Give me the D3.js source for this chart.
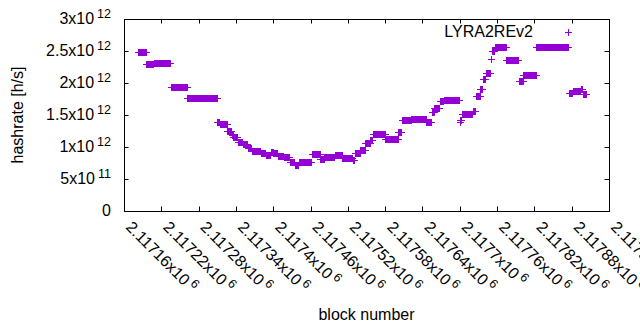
<!DOCTYPE html>
<html>
<head>
<meta charset="utf-8">
<script src="https://cdn.jsdelivr.net/npm/d3@7"></script>
<style>
    body { margin: 0; background: #fff; }
    text { font-family: "Liberation Sans", Arial, sans-serif; fill: #000; }
</style>
</head>
<body>
<svg id="chart" width="640" height="330"></svg>
<script>
// Hashrate runs: each run is a stretch of blocks at one value
var runStart = [2117183, 2117196, 2117208, 2117235, 2117262, 2117310, 2117314, 2117326, 2117333, 2117336,
    2117343, 2117351, 2117359, 2117366, 2117380, 2117388, 2117396, 2117400, 2117407, 2117417,
    2117427, 2117435, 2117441, 2117462, 2117476, 2117482, 2117499, 2117511, 2117528, 2117531,
    2117540, 2117548, 2117556, 2117560, 2117580, 2117601, 2117607, 2117622, 2117646, 2117655,
    2117659, 2117668, 2117674, 2117700, 2117701, 2117703, 2117721, 2117726, 2117733, 2117737,
    2117742, 2117750, 2117752, 2117756, 2117775, 2117795, 2117802, 2117823, 2117876, 2117882,
    2117895, 2117898]
var runEnd = [2117195, 2117207, 2117234, 2117261, 2117309, 2117313, 2117325, 2117332, 2117335, 2117342,
    2117350, 2117358, 2117365, 2117379, 2117387, 2117395, 2117399, 2117406, 2117416, 2117426,
    2117434, 2117440, 2117461, 2117475, 2117481, 2117498, 2117510, 2117527, 2117530, 2117539,
    2117547, 2117555, 2117559, 2117579, 2117600, 2117606, 2117621, 2117645, 2117654, 2117658,
    2117667, 2117673, 2117699, 2117700, 2117702, 2117720, 2117725, 2117732, 2117736, 2117741,
    2117749, 2117751, 2117755, 2117774, 2117794, 2117801, 2117822, 2117874, 2117881, 2117894,
    2117897, 2117903]
var runValue = [2.48e12, 2.29e12, 2.31e12, 1.935e12, 1.773e12, 1.39e12, 1.36e12, 1.245e12, 1.19e12, 1.15e12,
    1.08e12, 1.04e12, 0.99e12, 0.94e12, 0.905e12, 0.875e12, 0.92e12, 0.90e12, 0.86e12, 0.84e12,
    0.77e12, 0.72e12, 0.76e12, 0.898e12, 0.81e12, 0.845e12, 0.87e12, 0.83e12, 0.79e12, 0.90e12,
    0.955e12, 1.06e12, 1.11e12, 1.20e12, 1.122e12, 1.23e12, 1.42e12, 1.43e12, 1.398e12, 1.55e12,
    1.617e12, 1.72e12, 1.742e12, 1.395e12, 1.42e12, 1.508e12, 1.56e12, 1.79e12, 1.91e12, 2.058e12,
    2.15e12, 2.37e12, 2.50e12, 2.555e12, 2.355e12, 2.03e12, 2.13e12, 2.56e12, 1.85e12, 1.88e12,
    1.90e12, 1.83e12]

var xTickValues = [2117160, 2117220, 2117280, 2117340, 2117400, 2117460, 2117520, 2117580,
    2117640, 2117700, 2117760, 2117820, 2117880, 2117940]
var xTickMantissa = ["2.11716", "2.11722", "2.11728", "2.11734", "2.1174", "2.11746", "2.11752",
    "2.11758", "2.11764", "2.1177", "2.11776", "2.11782", "2.11788", "2.11794"]
var yTickValues = [0, 5e11, 1e12, 1.5e12, 2e12, 2.5e12, 3e12]
var yTickMantissa = ["0", "5", "1", "1.5", "2", "2.5", "3"]
var yTickExp = ["", "11", "12", "12", "12", "12", "12"]

var seriesName = "LYRA2REv2"
var color = "#9400d3"

// plot box (note: "top" is reserved on window, so m* names)
var mLeft = 124, mRight = 609, mTop = 19, mBottom = 211
var tickLen = 4.5
var plusHalf = 3.5

var x = d3.scaleLinear()
    .domain([2117160, 2117940])
    .range([mLeft, mRight])

var y = d3.scaleLinear()
    .domain([0, 3e12])
    .range([mBottom, mTop])

var svg = d3.select("#chart")

// one point per block inside each run
var points = []
runStart.forEach(function (s, i) {
    for (var b = s; b <= runEnd[i]; b++) points.push({ block: b, value: runValue[i] })
})

var plus = "M" + (-plusHalf) + ",0H" + plusHalf + "M0," + (-plusHalf) + "V" + plusHalf

svg.append("g")
    .attr("shape-rendering", "crispEdges")
    .selectAll("path")
    .data(points)
    .enter()
    .append("path")
    .attr("transform", function (d) {
        return "translate(" + (Math.round(x(d.block)) + 0.5) + "," + (Math.round(y(d.value)) + 0.5) + ")"
    })
    .attr("d", plus)
    .attr("stroke", color)
    .attr("stroke-width", 1)
    .attr("fill", "none")

// frame
svg.append("rect")
    .attr("x", mLeft + 0.5)
    .attr("y", mTop + 0.5)
    .attr("width", mRight - mLeft)
    .attr("height", mBottom - mTop)
    .attr("fill", "none")
    .attr("stroke", "#000")
    .attr("stroke-width", 1)

// ticks, mirrored on all four sides
var ticks = svg.append("g").attr("stroke", "#000").attr("stroke-width", 1)
yTickValues.forEach(function (v) {
    var yy = Math.round(y(v)) + 0.5
    ticks.append("line").attr("x1", mLeft).attr("x2", mLeft + tickLen).attr("y1", yy).attr("y2", yy)
    ticks.append("line").attr("x1", mRight).attr("x2", mRight - tickLen).attr("y1", yy).attr("y2", yy)
})
xTickValues.forEach(function (v) {
    var xx = Math.round(x(v)) + 0.5
    ticks.append("line").attr("x1", xx).attr("x2", xx).attr("y1", mBottom).attr("y2", mBottom - tickLen)
    ticks.append("line").attr("x1", xx).attr("x2", xx).attr("y1", mTop).attr("y2", mTop + tickLen)
})

var fontSize = 16
var supSize = 12.5

// y tick labels
var yLabels = svg.append("g")
    .selectAll("text")
    .data(yTickValues)
    .enter()
    .append("text")
    .attr("x", mLeft - 13)
    .attr("y", function (d) { return y(d) + 5 })
    .attr("text-anchor", "end")
    .style("font-size", fontSize + "px")
yLabels.each(function (d, i) {
    var t = d3.select(this)
    if (yTickExp[i] == "") {
        t.text(yTickMantissa[i])
        return
    }
    t.append("tspan").text(yTickMantissa[i] + "x10")
    t.append("tspan").attr("dx", 3).attr("dy", -6).style("font-size", supSize + "px").text(yTickExp[i])
})

// x tick labels, rotated by -45
var xLabels = svg.append("g")
    .selectAll("text")
    .data(xTickValues)
    .enter()
    .append("text")
    .attr("transform", function (d) { return "translate(" + (x(d) + 1) + "," + 228 + ") rotate(45)" })
    .style("font-size", fontSize + "px")
xLabels.each(function (d, i) {
    var t = d3.select(this)
    t.append("tspan").text(xTickMantissa[i] + "x10")
    t.append("tspan").attr("dx", 3).attr("dy", -6).style("font-size", supSize + "px").text("6")
})

// axis titles
svg.append("text")
    .attr("transform", "translate(23," + ((mTop + mBottom) / 2) + ") rotate(-90)")
    .attr("text-anchor", "middle")
    .style("font-size", fontSize + "px")
    .text("hashrate [h/s]")

svg.append("text")
    .attr("x", (mLeft + mRight) / 2)
    .attr("y", 320)
    .attr("text-anchor", "middle")
    .style("font-size", fontSize + "px")
    .text("block number")

// key
svg.append("text")
    .attr("x", 533)
    .attr("y", 37)
    .attr("text-anchor", "end")
    .style("font-size", fontSize + "px")
    .text(seriesName)
svg.append("path")
    .attr("transform", "translate(568.5,32.5)")
    .attr("d", plus)
    .attr("stroke", color)
    .attr("fill", "none")
    .attr("shape-rendering", "crispEdges")
</script>
</body>
</html>
